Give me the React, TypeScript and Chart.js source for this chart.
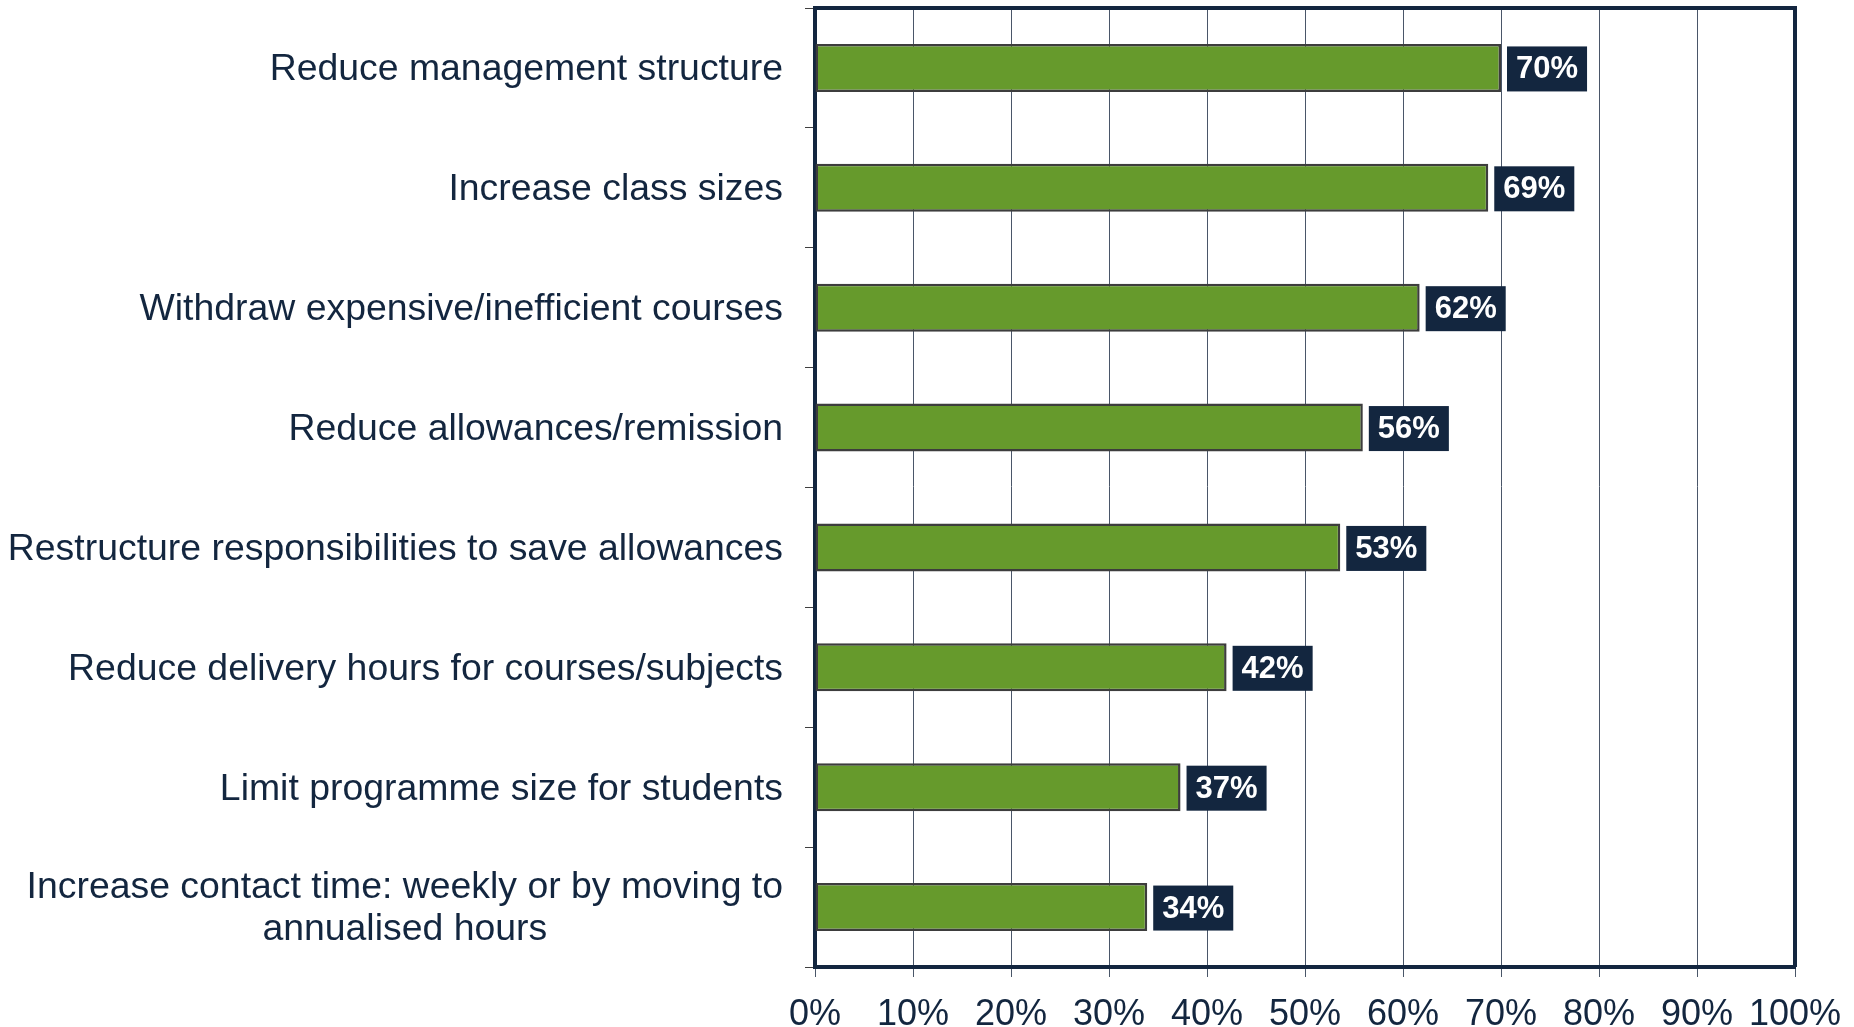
import React, { useEffect, useRef } from "react";
import { Chart, registerables } from "chart.js";

Chart.register(...registerables);

const categories: (string | string[])[] = [
  "Reduce management structure",
  "Increase class sizes",
  "Withdraw expensive/inefficient courses",
  "Reduce allowances/remission",
  "Restructure responsibilities to save allowances",
  "Reduce delivery hours for courses/subjects",
  "Limit programme size for students",
  ["Increase contact time: weekly or by moving to", "annualised hours"],
];

const values = [70, 68.7, 61.7, 55.9, 53.6, 42.0, 37.3, 33.9];
const valueLabels = ["70%", "69%", "62%", "56%", "53%", "42%", "37%", "34%"];
const xTickLabels = ["0%", "10%", "20%", "30%", "40%", "50%", "60%", "70%", "80%", "90%", "100%"];

const NAVY = "#13263f";
const FONT = "'Liberation Sans', Arial, sans-serif";

const framePlugin = {
  id: "frame",
  afterDatasetsDraw(chart: any) {
    const { ctx, chartArea } = chart;
    ctx.save();
    ctx.strokeStyle = NAVY;
    ctx.lineWidth = 4;
    ctx.beginPath();
    ctx.moveTo(chartArea.left, chartArea.top);
    ctx.lineTo(chartArea.right, chartArea.top);
    ctx.lineTo(chartArea.right, chartArea.bottom);
    ctx.stroke();
    ctx.restore();
  },
};

const valueLabelPlugin = {
  id: "valueLabels",
  afterDatasetsDraw(chart: any) {
    const { ctx } = chart;
    const meta = chart.getDatasetMeta(0);
    ctx.save();
    ctx.font = `bold 31px ${FONT}`;
    meta.data.forEach((bar: any, i: number) => {
      const text = valueLabels[i];
      const tw = ctx.measureText(text).width;
      const w = tw + 18;
      const h = 45;
      const x = bar.x + 6;
      const y = bar.y - h / 2 + 1;
      ctx.fillStyle = NAVY;
      ctx.fillRect(x, y, w, h);
      ctx.fillStyle = "#ffffff";
      ctx.textAlign = "center";
      ctx.textBaseline = "middle";
      ctx.fillText(text, x + w / 2, bar.y + 2);
    });
    ctx.restore();
  },
};

const categoryLabelPlugin = {
  id: "categoryLabels",
  afterDraw(chart: any) {
    const { ctx } = chart;
    const yScale = chart.scales.y;
    const rightEdge = 783;
    const lineHeight = 42;
    ctx.save();
    ctx.font = `37.4px ${FONT}`;
    ctx.fillStyle = NAVY;
    ctx.textAlign = "center";
    ctx.textBaseline = "middle";
    categories.forEach((cat, i) => {
      const lines = Array.isArray(cat) ? cat : [cat];
      const widest = Math.max(...lines.map((l) => ctx.measureText(l).width));
      const cx = rightEdge - widest / 2;
      const cy = yScale.getPixelForValue(i) + 2;
      const startY = cy - ((lines.length - 1) * lineHeight) / 2;
      lines.forEach((l, j) => {
        ctx.fillText(l, cx, startY + j * lineHeight);
      });
    });
    ctx.restore();
  },
};

export default function App() {
  const canvasRef = useRef<HTMLCanvasElement | null>(null);

  useEffect(() => {
    if (!canvasRef.current) return;
    const chart = new Chart(canvasRef.current, {
      type: "bar",
      data: {
        labels: categories.map((c) => (Array.isArray(c) ? c.join(" ") : c)),
        datasets: [
          {
            data: values,
            backgroundColor: "#669a2c",
            borderColor: "#3d3d3d",
            borderWidth: 2.5,
            borderSkipped: false,
            barPercentage: 0.4,
            categoryPercentage: 1,
          },
        ],
      },
      options: {
        indexAxis: "y",
        animation: false,
        responsive: false,
        layout: { padding: { top: 8, right: 59, left: 0, bottom: 0 } },
        plugins: {
          legend: { display: false },
          tooltip: { enabled: false },
        },
        scales: {
          x: {
            min: 0,
            max: 100,
            ticks: {
              stepSize: 10,
              color: NAVY,
              font: { family: FONT, size: 36 },
              padding: 16,
              maxRotation: 0,
              callback: (_v: any, i: number) => xTickLabels[i],
            },
            grid: {
              color: "#4a5669",
              lineWidth: 1,
              tickLength: 10,
              drawTicks: true,
            },
            border: { display: true, color: NAVY, width: 4 },
            afterFit: (scale: any) => {
              scale.height = 60;
              scale.paddingLeft = 0;
              scale.paddingRight = 0;
            },
          },
          y: {
            ticks: { display: false },
            grid: {
              drawOnChartArea: false,
              drawTicks: true,
              tickLength: 10,
              color: "#404040",
              lineWidth: 1,
              offset: true,
            },
            border: { display: true, color: NAVY, width: 4 },
            afterFit: (scale: any) => {
              scale.width = 815;
              scale.paddingTop = 0;
              scale.paddingBottom = 0;
            },
          },
        },
      },
      plugins: [framePlugin, valueLabelPlugin, categoryLabelPlugin],
    } as any);
    return () => chart.destroy();
  }, []);

  return (
    <div style={{ position: "absolute", left: 0, top: 0, width: 1854, height: 1027, background: "#ffffff" }}>
      <canvas ref={canvasRef} width={1854} height={1027} style={{ display: "block" }} />
    </div>
  );
}
